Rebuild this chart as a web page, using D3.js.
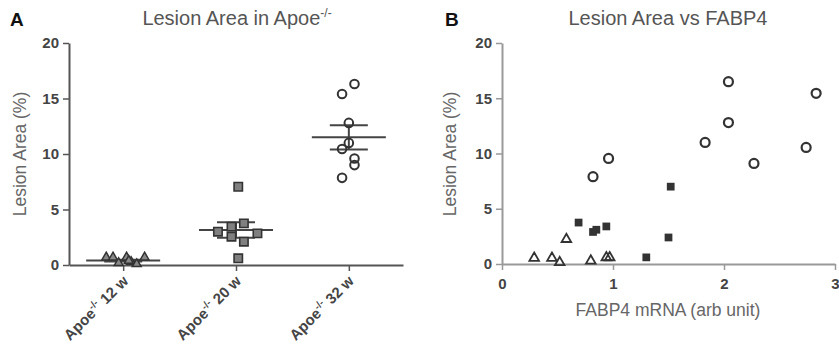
<!DOCTYPE html>
<meta charset="utf-8">
<style>
    body { margin: 0; background: #fff; }
    svg { font-family: "Liberation Sans", Arial, sans-serif; }
    .tick text { font-weight: bold; fill: #444; font-size: 15px; }
</style>
<svg width="839" height="350"></svg>
<script src="https://d3js.org/d3.v7.min.js"></script>
<script>

    // ---- data ----
    var groups = ["12 w", "20 w", "32 w"];
    var groupMean = [0.4, 3.15, 11.5];
    var groupSem = [0.08, 0.7, 1.1];

    // panel A values per group, with horizontal jitter (fraction of category step)
    var val12 = [0.6, 0.6, 0.1, 0.6, 0.2, 0.0, 0.6, 0.3];
    var jit12 = [-0.15, -0.09, -0.04, 0.03, 0.07, 0.12, 0.19, 0.05];
    var val20 = [7.05, 3.0, 3.45, 3.75, 2.55, 2.1, 2.85, 0.6];
    var jit20 = [0.02, -0.16, -0.04, 0.07, -0.04, 0.07, 0.19, 0.02];
    var val32 = [16.3, 15.4, 12.8, 11.0, 10.45, 9.6, 9.0, 7.85];
    var jit32 = [0.05, -0.06, 0.0, 0.0, -0.06, 0.05, 0.05, -0.06];

    // panel B: FABP4 mRNA vs lesion area
    var triX = [0.29, 0.45, 0.52, 0.58, 0.80, 0.94, 0.97];
    var triY = [0.45, 0.45, 0.05, 2.15, 0.2, 0.5, 0.5];
    var sqX = [1.52, 0.69, 0.94, 0.85, 0.82, 1.50, 1.30];
    var sqY = [7.0, 3.75, 3.4, 3.1, 2.9, 2.4, 0.6];
    var ciX = [2.04, 2.83, 2.04, 1.83, 2.74, 2.27, 0.96, 0.82];
    var ciY = [16.5, 15.45, 12.8, 11.0, 10.55, 9.1, 9.55, 7.9];

    var yTicks = [0, 5, 10, 15, 20];
    var xTicksB = [0, 1, 2, 3];

    var svg = d3.select("svg");
    var dark = "#333", axisA = "#555", axisB = "#999";

    // ---------------- Panel A ----------------
    var a = svg.append("g");
    var xA = d3.scalePoint().domain(groups).range([69, 403]).padding(0.48);
    var yA = d3.scaleLinear().domain([0, 20]).range([265, 43]);
    var stepA = xA.step();

    a.append("text").attr("x", 10).attr("y", 26)
        .attr("font-size", 19).attr("font-weight", "bold").attr("fill", "#111").text("A");

    var tA = a.append("text").attr("x", 237).attr("y", 25).attr("text-anchor", "middle")
        .attr("font-size", 20).attr("fill", "#555");
    tA.append("tspan").text("Lesion Area in Apoe");
    tA.append("tspan").attr("font-size", 12).attr("dy", -8).text("-/-");

    a.append("text").attr("transform", "translate(26,154) rotate(-90)")
        .attr("text-anchor", "middle").attr("font-size", 17.5).attr("fill", "#666")
        .text("Lesion Area (%)");

    var yAxA = a.append("g").attr("transform", "translate(69,0)")
        .call(d3.axisLeft(yA).tickValues(yTicks).tickSize(6).tickSizeOuter(0).tickPadding(4));
    var xAxA = a.append("g").attr("transform", "translate(0,265)")
        .call(d3.axisBottom(xA).tickSize(6).tickSizeOuter(0).tickFormat(""));
    [yAxA, xAxA].forEach(function(g) {
        g.select(".domain").attr("stroke", axisA).attr("stroke-width", 2);
        g.selectAll(".tick line").attr("stroke", axisA).attr("stroke-width", 1.5);
    });

    // rotated category labels with superscript
    groups.forEach(function(gname) {
        var t = a.append("text")
            .attr("transform", "translate(" + (xA(gname) + 6) + ",282) rotate(-45)")
            .attr("text-anchor", "end").attr("font-size", 15).attr("font-weight", "bold").attr("fill", "#444");
        t.append("tspan").text("Apoe");
        t.append("tspan").attr("font-size", 10).attr("dy", -6).text("-/-");
        t.append("tspan").attr("dy", 6).text(" " + gname);
    });

    // mean and SEM bars
    groups.forEach(function(gname, i) {
        var cx = xA(gname);
        a.append("line").attr("x1", cx - 37).attr("x2", cx + 37)
            .attr("y1", yA(groupMean[i])).attr("y2", yA(groupMean[i]))
            .attr("stroke", "#444").attr("stroke-width", 2);
        [groupMean[i] + groupSem[i], groupMean[i] - groupSem[i]].forEach(function(v) {
            a.append("line").attr("x1", cx - 19).attr("x2", cx + 19)
                .attr("y1", yA(v)).attr("y2", yA(v))
                .attr("stroke", "#444").attr("stroke-width", 2);
        });
        a.append("line").attr("x1", cx).attr("x2", cx)
            .attr("y1", yA(groupMean[i] + groupSem[i])).attr("y2", yA(groupMean[i] - groupSem[i]))
            .attr("stroke", "#444").attr("stroke-width", 2);
    });

    var tri = d3.symbol().type(d3.symbolTriangle);
    var sq = d3.symbol().type(d3.symbolSquare);

    a.selectAll(".t12").data(val12).enter().append("path")
        .attr("d", tri.size(34)())
        .attr("transform", function(d, i) { return "translate(" + (xA("12 w") + jit12[i] * stepA) + "," + (yA(d) - 1) + ")"; })
        .attr("fill", "#888").attr("stroke", dark).attr("stroke-width", 1.5);

    a.selectAll(".s20").data(val20).enter().append("path")
        .attr("d", sq.size(70)())
        .attr("transform", function(d, i) { return "translate(" + (xA("20 w") + jit20[i] * stepA) + "," + yA(d) + ")"; })
        .attr("fill", "#808080").attr("stroke", dark).attr("stroke-width", 1.6);

    a.selectAll(".c32").data(val32).enter().append("circle")
        .attr("cx", function(d, i) { return xA("32 w") + jit32[i] * stepA; })
        .attr("cy", function(d) { return yA(d); })
        .attr("r", 4.3).attr("fill", "none").attr("stroke", dark).attr("stroke-width", 2);

    // ---------------- Panel B ----------------
    var b = svg.append("g");
    var xB = d3.scaleLinear().domain([0, 3]).range([502, 835]);
    var yB = d3.scaleLinear().domain([0, 20]).range([264, 43]);

    b.append("text").attr("x", 445).attr("y", 26)
        .attr("font-size", 19).attr("font-weight", "bold").attr("fill", "#111").text("B");

    b.append("text").attr("x", 668).attr("y", 25).attr("text-anchor", "middle")
        .attr("font-size", 20).attr("fill", "#555").text("Lesion Area vs FABP4");

    b.append("text").attr("transform", "translate(456,154) rotate(-90)")
        .attr("text-anchor", "middle").attr("font-size", 17.5).attr("fill", "#666")
        .text("Lesion Area (%)");

    b.append("text").attr("x", 668).attr("y", 316).attr("text-anchor", "middle")
        .attr("font-size", 17.5).attr("fill", "#666").text("FABP4 mRNA (arb unit)");

    var yAxB = b.append("g").attr("transform", "translate(502,0)")
        .call(d3.axisLeft(yB).tickValues(yTicks).tickSize(6).tickSizeOuter(0).tickPadding(4));
    var xAxB = b.append("g").attr("transform", "translate(0,264)")
        .call(d3.axisBottom(xB).tickValues(xTicksB).tickFormat(d3.format("d")).tickSize(6).tickSizeOuter(0).tickPadding(8));
    [yAxB, xAxB].forEach(function(g) {
        g.select(".domain").attr("stroke", axisB).attr("stroke-width", 2);
        g.selectAll(".tick line").attr("stroke", axisB).attr("stroke-width", 1.5);
    });

    b.selectAll(".tri").data(triX).enter().append("path")
        .attr("d", tri.size(40)())
        .attr("transform", function(d, i) { return "translate(" + xB(d) + "," + (yB(triY[i]) - 1) + ")"; })
        .attr("fill", "none").attr("stroke", dark).attr("stroke-width", 1.8);

    b.selectAll(".sq").data(sqX).enter().append("path")
        .attr("d", sq.size(60)())
        .attr("transform", function(d, i) { return "translate(" + xB(d) + "," + yB(sqY[i]) + ")"; })
        .attr("fill", dark);

    b.selectAll(".ci").data(ciX).enter().append("circle")
        .attr("cx", function(d) { return xB(d); })
        .attr("cy", function(d, i) { return yB(ciY[i]); })
        .attr("r", 4.5).attr("fill", "none").attr("stroke", dark).attr("stroke-width", 2.2);

</script>
